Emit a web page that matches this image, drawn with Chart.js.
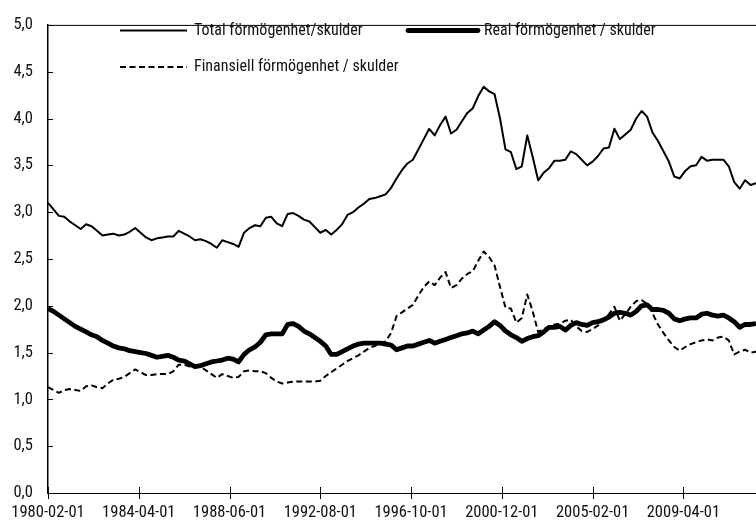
<!DOCTYPE html>
<html>
<head>
<meta charset="utf-8">
<script src="https://cdn.jsdelivr.net/npm/chart.js@4.4.1/dist/chart.umd.min.js"></script>
<style>
  html, body { margin: 0; padding: 0; background: #ffffff; }
  #wrap { width: 756px; height: 525px; position: relative; }
</style>
</head>
<body>
<div id="wrap"><canvas id="c"></canvas></div>
<script>
// ---- Data (quarterly, first point 1980-02-01) ----
const startYear = 1980;
const startMonth = 2;
const quarterCount = 131;
const dates = [];
for (let i = 0; i < quarterCount; i++) {
  const m = startMonth - 1 + i * 3;
  const y = startYear + Math.floor(m / 12);
  const mm = (m % 12) + 1;
  dates.push(y + '-' + String(mm).padStart(2, '0') + '-01');
}

const seriesLabels = [
  'Total förmögenhet/skulder',
  'Real förmögenhet / skulder',
  'Finansiell förmögenhet / skulder'
];

const total = [
  3.10, 3.03, 2.96, 2.95, 2.90, 2.86, 2.82, 2.87, 2.85, 2.80,
  2.75, 2.76, 2.77, 2.75, 2.76, 2.79, 2.83, 2.78, 2.73, 2.70,
  2.72, 2.73, 2.74, 2.74, 2.80, 2.77, 2.74, 2.70, 2.71, 2.69,
  2.66, 2.62, 2.70, 2.68, 2.66, 2.63, 2.78, 2.83, 2.86, 2.85,
  2.94, 2.95, 2.88, 2.85, 2.98, 2.99, 2.96, 2.92, 2.90, 2.84,
  2.78, 2.81, 2.76, 2.81, 2.87, 2.97, 3.00, 3.05, 3.09, 3.14,
  3.15, 3.17, 3.19, 3.26, 3.36, 3.45, 3.52, 3.56, 3.67, 3.78,
  3.89, 3.82, 3.93, 4.02, 3.84, 3.88, 3.97, 4.06, 4.11, 4.24,
  4.34, 4.29, 4.26, 4.00, 3.67, 3.64, 3.46, 3.49, 3.82, 3.59,
  3.34, 3.42, 3.47, 3.55, 3.55, 3.56, 3.65, 3.62, 3.56, 3.50,
  3.54, 3.60, 3.68, 3.69, 3.89, 3.78, 3.83, 3.88, 4.00, 4.08,
  4.02, 3.85, 3.76, 3.65, 3.54, 3.38, 3.36, 3.44, 3.49, 3.50,
  3.59, 3.55, 3.56, 3.56, 3.56, 3.49, 3.32, 3.25, 3.34, 3.29,
  3.31
];

const real = [
  1.97, 1.94, 1.90, 1.86, 1.82, 1.78, 1.75, 1.72, 1.69, 1.67,
  1.63, 1.60, 1.57, 1.55, 1.54, 1.52, 1.51, 1.50, 1.49, 1.47,
  1.45, 1.46, 1.47, 1.45, 1.42, 1.41, 1.38, 1.35, 1.36, 1.38,
  1.40, 1.41, 1.42, 1.44, 1.43, 1.40, 1.48, 1.53, 1.56, 1.61,
  1.69, 1.70, 1.70, 1.70, 1.80, 1.81, 1.78, 1.73, 1.70, 1.66,
  1.62, 1.57, 1.48, 1.48, 1.51, 1.54, 1.57, 1.59, 1.60, 1.60,
  1.60, 1.60, 1.59, 1.58, 1.53, 1.55, 1.57, 1.57, 1.59, 1.61,
  1.63, 1.60, 1.62, 1.64, 1.66, 1.68, 1.70, 1.71, 1.73, 1.70,
  1.74, 1.78, 1.83, 1.79, 1.73, 1.69, 1.66, 1.62, 1.65, 1.67,
  1.68, 1.72, 1.77, 1.77, 1.78, 1.74, 1.79, 1.82, 1.80, 1.79,
  1.82, 1.83, 1.85, 1.88, 1.92, 1.93, 1.92, 1.90, 1.94, 2.00,
  2.01, 1.96, 1.96, 1.95, 1.92, 1.86, 1.84, 1.86, 1.87, 1.87,
  1.91, 1.92, 1.90, 1.89, 1.90, 1.87, 1.83, 1.77, 1.80, 1.80,
  1.81
];

const fin = [
  1.13, 1.10, 1.07, 1.10, 1.11, 1.10, 1.09, 1.14, 1.15, 1.13,
  1.12, 1.17, 1.21, 1.22, 1.24, 1.28, 1.32, 1.29, 1.26, 1.26,
  1.27, 1.27, 1.27, 1.30, 1.37, 1.37, 1.35, 1.35, 1.35, 1.31,
  1.27, 1.23, 1.27, 1.25, 1.23, 1.24, 1.30, 1.31, 1.30, 1.30,
  1.28, 1.23, 1.19, 1.17, 1.18, 1.19, 1.19, 1.19, 1.19, 1.19,
  1.20, 1.25, 1.29, 1.33, 1.37, 1.41, 1.44, 1.47, 1.51, 1.55,
  1.57, 1.60, 1.62, 1.71, 1.89, 1.93, 1.97, 2.01, 2.11, 2.20,
  2.26, 2.22, 2.30, 2.36, 2.19, 2.22, 2.29, 2.34, 2.37, 2.48,
  2.58, 2.52, 2.43, 2.20, 1.98, 1.97, 1.82, 1.87, 2.12, 1.94,
  1.72, 1.75, 1.78, 1.80, 1.81, 1.84, 1.85, 1.78, 1.73, 1.72,
  1.75, 1.79, 1.84, 1.91, 1.99, 1.84, 1.91, 1.99, 2.05, 2.06,
  2.02, 1.92, 1.80, 1.71, 1.63, 1.56, 1.52, 1.56, 1.59, 1.61,
  1.63, 1.64, 1.63, 1.66, 1.67, 1.63, 1.48, 1.51, 1.53, 1.50,
  1.51
];

// x tick positions (months after 1980-02-01) and y tick values
const xTickMonths = [0, 50, 100, 150, 200, 250, 300, 350];
const yTicks = [0, 0.5, 1, 1.5, 2, 2.5, 3, 3.5, 4, 4.5, 5];

// ---- helpers ----
function monthsFromStart(d) {
  const y = parseInt(d.slice(0, 4), 10);
  const m = parseInt(d.slice(5, 7), 10);
  return (y - startYear) * 12 + (m - startMonth);
}
function monthLabel(off) {
  const m = startMonth - 1 + off;
  const y = startYear + Math.floor(m / 12);
  const mm = (m % 12) + 1;
  return y + '-' + String(mm).padStart(2, '0') + '-01';
}
function toPoints(arr) {
  return arr.map((v, i) => ({ x: monthsFromStart(dates[i]), y: v }));
}

const FONT = "'Roboto Condensed', Roboto, 'DejaVu Sans Condensed', sans-serif";
const TXT = '#111111';

const extrasPlugin = {
  id: 'extras',
  afterDraw(chart) {
    const ctx = chart.ctx;
    const ca = chart.chartArea;
    const xs = chart.scales.x, ys = chart.scales.y;
    ctx.save();
    ctx.strokeStyle = '#000';
    ctx.lineWidth = 1;
    // top frame line
    ctx.beginPath();
    ctx.moveTo(ca.left, ca.top + 0.5);
    ctx.lineTo(chart.width, ca.top + 0.5);
    ctx.stroke();
    // y ticks (inside)
    yTicks.forEach(v => {
      const py = Math.round(ys.getPixelForValue(v)) + 0.5;
      ctx.beginPath();
      ctx.moveTo(ca.left, py);
      ctx.lineTo(ca.left + 5, py);
      ctx.stroke();
    });
    // x ticks (cross the axis)
    xTickMonths.forEach(v => {
      const px = Math.round(xs.getPixelForValue(v)) + 0.5;
      ctx.beginPath();
      ctx.moveTo(px, ca.bottom - 6);
      ctx.lineTo(px, ca.bottom + 6);
      ctx.stroke();
    });
    // legend
    const ds = chart.data.datasets;
    const items = [
      { d: ds[2], x1: 120, x2: 187, y: 30.5, tx: 194 },
      { d: ds[1], x1: 408, x2: 478, y: 30.5, tx: 484 },
      { d: ds[0], x1: 120, x2: 187, y: 67, tx: 194 }
    ];
    items.forEach(it => {
      ctx.save();
      ctx.strokeStyle = it.d.borderColor;
      ctx.lineWidth = it.d.borderWidth;
      ctx.lineCap = it.d.borderWidth > 3 ? 'round' : 'butt';
      ctx.setLineDash(it.d.borderDash || []);
      ctx.beginPath();
      ctx.moveTo(it.x1, it.y);
      ctx.lineTo(it.x2, it.y);
      ctx.stroke();
      ctx.restore();
      ctx.fillStyle = TXT;
      ctx.font = 'condensed 16px ' + FONT;
      ctx.textAlign = 'left';
      ctx.textBaseline = 'middle';
      ctx.fillText(it.d.label, it.tx, it.y);
    });
    ctx.restore();
  }
};

new Chart(document.getElementById('c'), {
  type: 'line',
  data: {
    datasets: [
      {
        label: seriesLabels[2],
        data: toPoints(fin),
        borderColor: '#000',
        borderWidth: 2,
        borderDash: [6, 3.5],
        order: 0
      },
      {
        label: seriesLabels[1],
        data: toPoints(real),
        borderColor: '#000',
        borderWidth: 4.8,
        order: 1
      },
      {
        label: seriesLabels[0],
        data: toPoints(total),
        borderColor: '#000',
        borderWidth: 2,
        order: 2
      }
    ]
  },
  options: {
    responsive: true,
    maintainAspectRatio: false,
    animation: false,
    layout: { padding: { top: 17, right: 0, left: 0, bottom: 0 } },
    elements: {
      point: { radius: 0, hoverRadius: 0 },
      line: { tension: 0, borderJoinStyle: 'round', borderCapStyle: 'butt' }
    },
    plugins: {
      legend: { display: false },
      tooltip: { enabled: false }
    },
    scales: {
      x: {
        type: 'linear',
        min: 0,
        max: 390,
        afterFit(s) { s.height = 32; s.paddingLeft = 0; s.paddingRight = 0; },
        afterBuildTicks(s) { s.ticks = xTickMonths.map(v => ({ value: v })); },
        grid: { display: true, drawOnChartArea: false, drawTicks: false },
        border: { display: true, color: '#000', width: 1 },
        ticks: {
          autoSkip: false,
          maxRotation: 0,
          minRotation: 0,
          padding: 10,
          color: TXT,
          font: { family: FONT, size: 16.5, weight: 'condensed' },
          callback: v => monthLabel(v)
        }
      },
      y: {
        min: 0,
        max: 5,
        afterFit(s) { s.width = 48; },
        afterBuildTicks(s) { s.ticks = yTicks.map(v => ({ value: v })); },
        grid: { display: true, drawOnChartArea: false, drawTicks: false },
        border: { display: true, color: '#000', width: 1.5 },
        ticks: {
          padding: 15,
          color: TXT,
          font: { family: FONT, size: 16.5, weight: 'condensed' },
          callback: v => v.toFixed(1).replace('.', ',')
        }
      }
    }
  },
  plugins: [extrasPlugin]
});
</script>
</body>
</html>
